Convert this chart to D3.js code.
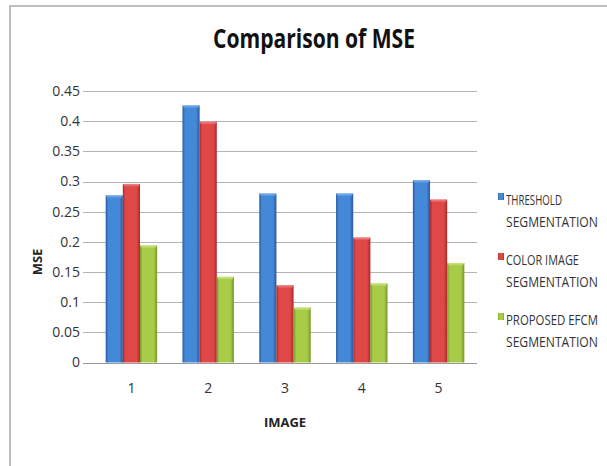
<!DOCTYPE html>
<html>
<head>
<meta charset="utf-8">
<script src="https://cdn.jsdelivr.net/npm/d3@7"></script>
<style>
  html, body { margin: 0; padding: 0; background: #fff; }
  svg { display: block; }
  text { font-family: "Open Sans", "Liberation Sans", sans-serif; }
</style>
</head>
<body>
<svg id="chart" width="607" height="466"></svg>
<script>
// MSE per test image for each segmentation method
const images = ["1", "2", "3", "4", "5"];
const seriesNames = ["THRESHOLD SEGMENTATION", "COLOR IMAGE SEGMENTATION", "PROPOSED EFCM SEGMENTATION"];
const threshold = [0.277, 0.426, 0.280, 0.280, 0.302];
const colorImage = [0.296, 0.399, 0.128, 0.207, 0.270];
const proposedEfcm = [0.194, 0.142, 0.091, 0.131, 0.165];
const yTicks = [0, 0.05, 0.1, 0.15, 0.2, 0.25, 0.3, 0.35, 0.4, 0.45];
const legendLines = [["THRESHOLD", "SEGMENTATION"], ["COLOR IMAGE", "SEGMENTATION"], ["PROPOSED EFCM", "SEGMENTATION"]];

const seriesValues = [threshold, colorImage, proposedEfcm];
const palette = [
  { edge: "#28589e", mid: "#4488d8", top: "#7fb2ee" },
  { edge: "#a82828", mid: "#e04848", top: "#f08a8a" },
  { edge: "#76962a", mid: "#a8cc48", top: "#cfe88a" }
];

const svg = d3.select("#chart");

// squeeze a text horizontally so it spans the given width, anchored at its x
function fitWidth(sel, width, anchorX) {
  sel.each(function() {
    const w = this.getComputedTextLength();
    const k = Math.min(1, width / w);
    d3.select(this).attr("transform", `translate(${anchorX * (1 - k)},0) scale(${k},1)`);
  });
}

// outer frame
svg.append("rect").attr("x", 10).attr("y", 6).attr("width", 620).attr("height", 480)
  .attr("fill", "none").attr("stroke", "#a8a8a8").attr("stroke-width", 1.5);

// gradients for the bevelled bars
const defs = svg.append("defs");
palette.forEach((p, i) => {
  const g = defs.append("linearGradient").attr("id", "bar" + i)
    .attr("x1", "0%").attr("x2", "100%").attr("y1", "0%").attr("y2", "0%");
  g.append("stop").attr("offset", "0%").attr("stop-color", p.edge);
  g.append("stop").attr("offset", "15%").attr("stop-color", p.mid);
  g.append("stop").attr("offset", "80%").attr("stop-color", p.mid);
  g.append("stop").attr("offset", "100%").attr("stop-color", p.edge);
  const t = defs.append("linearGradient").attr("id", "cap" + i)
    .attr("x1", "0%").attr("x2", "0%").attr("y1", "0%").attr("y2", "100%");
  t.append("stop").attr("offset", "0%").attr("stop-color", p.top);
  t.append("stop").attr("offset", "100%").attr("stop-color", p.mid);
});

const plotLeft = 89, plotRight = 477;
const y = d3.scaleLinear().domain([0, 0.45]).range([362.5, 91]);
const x = d3.scaleBand().domain(images).range([93, 477]).paddingInner(0.33).paddingOuter(0.165);
const xs = d3.scaleBand().domain(d3.range(seriesValues.length)).range([0, x.bandwidth()]);

// horizontal gridlines
svg.append("g").selectAll("line").data(yTicks).join("line")
  .attr("x1", plotLeft - 6).attr("x2", plotRight)
  .attr("y1", d => Math.round(y(d)) + 0.5).attr("y2", d => Math.round(y(d)) + 0.5)
  .attr("stroke", d => d === 0 ? "#9a9a9a" : "#b4b4b4").attr("stroke-width", 1);

// y axis labels
const yAxis = d3.axisLeft(y).tickValues(yTicks).tickSize(0).tickPadding(0)
  .tickFormat(d => d3.format("")(+d.toFixed(2)));
svg.append("g").attr("transform", "translate(80,0)").call(yAxis)
  .call(g => g.select(".domain").remove())
  .call(g => g.selectAll("text").attr("font-size", 14).attr("fill", "#333")
    .attr("font-family", "\"Open Sans\", sans-serif"));

// bars
const groups = svg.append("g").selectAll("g").data(images).join("g")
  .attr("transform", d => `translate(${x(d)},0)`);
groups.each(function(img, gi) {
  const g = d3.select(this);
  seriesValues.forEach((vals, si) => {
    const v = vals[gi];
    const bx = xs(si), bw = xs.bandwidth();
    g.append("rect").attr("x", bx).attr("y", y(v)).attr("width", bw).attr("height", y(0) - y(v))
      .attr("fill", `url(#bar${si})`);
    g.append("path")
      .attr("d", `M${bx},${y(v)}H${bx + bw}L${bx + bw - 2},${y(v) + 3}H${bx + 2}Z`)
      .attr("fill", `url(#cap${si})`);
  });
});

// x axis labels
const xAxis = d3.axisBottom(x).tickSize(0).tickPadding(0);
svg.append("g").attr("transform", "translate(0,383)").call(xAxis)
  .call(g => g.select(".domain").remove())
  .call(g => g.selectAll("text").attr("font-size", 14).attr("fill", "#333")
    .attr("font-family", "\"Open Sans\", sans-serif"));

// titles
svg.append("text").attr("x", 213).attr("y", 48)
  .attr("font-size", 26).attr("font-weight", "bold").attr("fill", "#111")
  .text("Comparison of MSE")
  .call(fitWidth, 202, 213);
svg.append("text").attr("transform", "translate(42,262) rotate(-90)").attr("text-anchor", "middle")
  .attr("font-size", 13).attr("font-weight", "bold").attr("fill", "#222").text("MSE");
svg.append("text").attr("x", 285).attr("y", 427).attr("text-anchor", "middle")
  .attr("font-size", 13).attr("font-weight", "bold").attr("fill", "#222").text("IMAGE");

// legend
const legendWidths = [[56, 92], [73, 92], [92, 92]];
const legend = svg.append("g").selectAll("g").data(seriesNames).join("g")
  .attr("transform", (d, i) => `translate(498,${193 + i * 60})`);
legend.append("rect").attr("x", 0).attr("y", 0).attr("width", 6).attr("height", 7)
  .attr("fill", (d, i) => `url(#bar${i})`);
legend.each(function(d, i) {
  const g = d3.select(this);
  legendLines[i].forEach((line, li) => {
    g.append("text").attr("x", 8).attr("y", 12 + li * 22)
      .attr("font-size", 15).attr("fill", "#333")
      .text(line)
      .call(fitWidth, legendWidths[i][li], 8);
  });
});
</script>
</body>
</html>
